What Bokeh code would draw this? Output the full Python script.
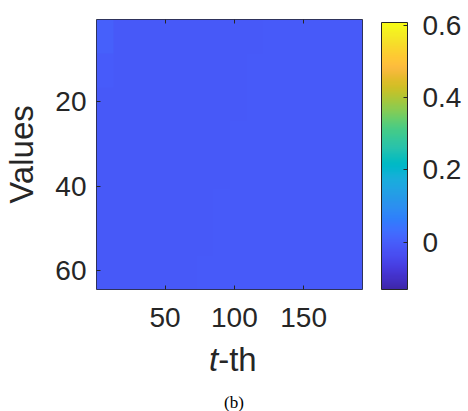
import numpy as np
from bokeh.plotting import figure
from bokeh.layouts import column
from bokeh.models import (LinearColorMapper, ColorBar, FixedTicker, Range1d,
                          LinearAxis, Div, CustomJSTickFormatter)
from bokeh.embed import file_html
from bokeh.resources import INLINE

# ---- data (coarse reading of the heat map: 8 row bands x 16 column bands) ----
n_rows = 64
n_cols = 192
band_rows = [
    [0.004, -0.010, -0.011, -0.011, -0.011, -0.011, -0.011, -0.011, -0.011, -0.011, -0.007, -0.007, -0.007, -0.007, -0.007, -0.007],
    [-0.004, -0.011, -0.011, -0.011, -0.011, -0.011, -0.011, -0.011, -0.011, -0.007, -0.007, -0.007, -0.007, -0.007, -0.007, -0.007],
    [-0.010, -0.011, -0.011, -0.011, -0.011, -0.011, -0.011, -0.011, -0.011, -0.007, -0.007, -0.007, -0.007, -0.007, -0.007, -0.007],
    [-0.011, -0.011, -0.011, -0.011, -0.011, -0.011, -0.011, -0.011, -0.007, -0.007, -0.007, -0.007, -0.007, -0.007, -0.007, -0.007],
    [-0.011, -0.011, -0.011, -0.011, -0.011, -0.011, -0.011, -0.011, -0.007, -0.007, -0.007, -0.007, -0.007, -0.007, -0.007, -0.007],
    [-0.011, -0.011, -0.011, -0.011, -0.011, -0.011, -0.011, -0.007, -0.007, -0.007, -0.007, -0.007, -0.007, -0.007, -0.007, -0.007],
    [-0.011, -0.011, -0.011, -0.011, -0.011, -0.011, -0.011, -0.007, -0.007, -0.007, -0.007, -0.007, -0.007, -0.007, -0.007, -0.007],
    [-0.011, -0.011, -0.011, -0.011, -0.011, -0.011, -0.007, -0.007, -0.007, -0.007, -0.007, -0.007, -0.007, -0.007, -0.007, -0.007],
]
x_ticks = [50, 100, 150]
y_ticks = [20, 40, 60]
cbar_ticks = [0, 0.2, 0.4, 0.6]
cbar_low = -0.13
cbar_high = 0.607
x_title_italic = "t"
x_title_rest = "-th"
y_title = "Values"
caption = "(b)"

# MATLAB parula anchors (64 colours), expanded to 256 for a smooth map
parula = [
    (0.2422, 0.1504, 0.6603), (0.2504, 0.1650, 0.7076), (0.2578, 0.1818, 0.7511), (0.2647, 0.1978, 0.7952),
    (0.2706, 0.2147, 0.8364), (0.2751, 0.2342, 0.8710), (0.2783, 0.2559, 0.8991), (0.2803, 0.2782, 0.9221),
    (0.2813, 0.3006, 0.9414), (0.2810, 0.3228, 0.9579), (0.2795, 0.3447, 0.9717), (0.2760, 0.3667, 0.9829),
    (0.2699, 0.3892, 0.9906), (0.2602, 0.4123, 0.9952), (0.2440, 0.4358, 0.9988), (0.2206, 0.4603, 0.9973),
    (0.1963, 0.4847, 0.9892), (0.1834, 0.5074, 0.9798), (0.1786, 0.5289, 0.9682), (0.1764, 0.5499, 0.9520),
    (0.1687, 0.5703, 0.9359), (0.1540, 0.5902, 0.9218), (0.1460, 0.6091, 0.9079), (0.1380, 0.6276, 0.8973),
    (0.1248, 0.6459, 0.8883), (0.1113, 0.6635, 0.8763), (0.0952, 0.6798, 0.8598), (0.0689, 0.6948, 0.8394),
    (0.0297, 0.7082, 0.8163), (0.0036, 0.7203, 0.7917), (0.0067, 0.7312, 0.7660), (0.0433, 0.7411, 0.7394),
    (0.0964, 0.7500, 0.7120), (0.1408, 0.7584, 0.6842), (0.1717, 0.7670, 0.6554), (0.1938, 0.7758, 0.6251),
    (0.2161, 0.7843, 0.5923), (0.2470, 0.7918, 0.5567), (0.2906, 0.7973, 0.5188), (0.3406, 0.8008, 0.4789),
    (0.3909, 0.8029, 0.4354), (0.4456, 0.8024, 0.3909), (0.5044, 0.7993, 0.3480), (0.5616, 0.7942, 0.3045),
    (0.6174, 0.7876, 0.2612), (0.6720, 0.7793, 0.2227), (0.7242, 0.7698, 0.1910), (0.7738, 0.7598, 0.1646),
    (0.8203, 0.7498, 0.1535), (0.8634, 0.7406, 0.1596), (0.9035, 0.7330, 0.1774), (0.9393, 0.7288, 0.2100),
    (0.9728, 0.7298, 0.2394), (0.9956, 0.7434, 0.2371), (0.9970, 0.7659, 0.2199), (0.9952, 0.7893, 0.2028),
    (0.9892, 0.8136, 0.1885), (0.9794, 0.8386, 0.1760), (0.9697, 0.8639, 0.1650), (0.9636, 0.8901, 0.1558),
    (0.9610, 0.9167, 0.1447), (0.9597, 0.9440, 0.1289), (0.9628, 0.9719, 0.1029), (0.9769, 0.9839, 0.0805),
]
anchors = np.array(parula)
pos = np.linspace(0, 1, len(anchors))
fine = np.linspace(0, 1, 256)
cols = np.stack([np.interp(fine, pos, anchors[:, k]) for k in range(3)], axis=1)
palette = ["#%02x%02x%02x" % tuple(int(round(c * 255)) for c in rgb) for rgb in cols]

img = np.array(band_rows, dtype=float)

TXT = "#262626"
FONT = "Liberation Sans"

p = figure(width=464, height=340, output_backend="svg", toolbar_location=None,
           x_range=Range1d(0.5, n_cols + 0.5), y_range=Range1d(n_rows + 0.5, 0.5),
           min_border_left=96, min_border_right=102, min_border_top=19, min_border_bottom=51)
p.background_fill_color = "white"
p.border_fill_color = "white"
p.outline_line_color = TXT
p.outline_line_width = 1
p.grid.visible = False

mapper = LinearColorMapper(palette=palette, low=cbar_low, high=cbar_high)
p.image(image=[img], x=0.5, y=0.5, dw=n_cols, dh=n_rows, color_mapper=mapper)

def style_axis(ax, show_labels=True):
    ax.major_tick_in = 4
    ax.major_tick_out = 0
    ax.minor_tick_line_color = None
    ax.axis_line_color = None
    ax.major_tick_line_color = TXT
    ax.major_label_text_font = FONT
    ax.major_label_text_font_size = "28px"
    ax.major_label_text_color = TXT if show_labels else None

p.xaxis.ticker = FixedTicker(ticks=x_ticks)
p.yaxis.ticker = FixedTicker(ticks=y_ticks)
style_axis(p.xaxis[0])
style_axis(p.yaxis[0])
p.xaxis.major_label_standoff = 18
p.yaxis.major_label_standoff = 10
p.yaxis.axis_label = y_title
p.yaxis.axis_label_text_font = FONT
p.yaxis.axis_label_text_font_size = "33px"
p.yaxis.axis_label_text_font_style = "normal"
p.yaxis.axis_label_text_color = TXT
p.yaxis.axis_label_standoff = 12

top_ax = LinearAxis(ticker=FixedTicker(ticks=x_ticks), major_label_text_font_size="0px")
style_axis(top_ax, show_labels=False)
p.add_layout(top_ax, "above")

cbar = ColorBar(color_mapper=mapper, ticker=FixedTicker(ticks=cbar_ticks),
                formatter=CustomJSTickFormatter(code="return tick.toString();"),
                width=26, height=267, padding=0, margin=0, location=(19, 0),
                bar_line_color=TXT, major_tick_line_color=TXT, major_tick_in=4, major_tick_out=0,
                minor_tick_line_color=None, label_standoff=15,
                major_label_text_font=FONT, major_label_text_font_size="28px",
                major_label_text_color=TXT, background_fill_color=None, border_line_color=None)
p.add_layout(cbar, "right")

html = (
    '<div style="position:relative;width:464px;height:69px;">'
    f'<span style="position:absolute;left:209px;top:3px;font-family:\'{FONT}\';font-size:33px;'
    f'line-height:33px;color:{TXT};white-space:nowrap;"><i>{x_title_italic}</i>{x_title_rest}</span>'
    f'<span style="position:absolute;left:224px;top:54px;font-family:\'Liberation Serif\';font-size:17px;'
    f'line-height:17px;color:#000;white-space:nowrap;">{caption}</span>'
    '</div>'
)
div = Div(text=html, width=464, height=69, margin=(0, 0, 0, 0))

layout = column(p, div, spacing=0)
open("out.html", "w").write(file_html(layout, INLINE))
